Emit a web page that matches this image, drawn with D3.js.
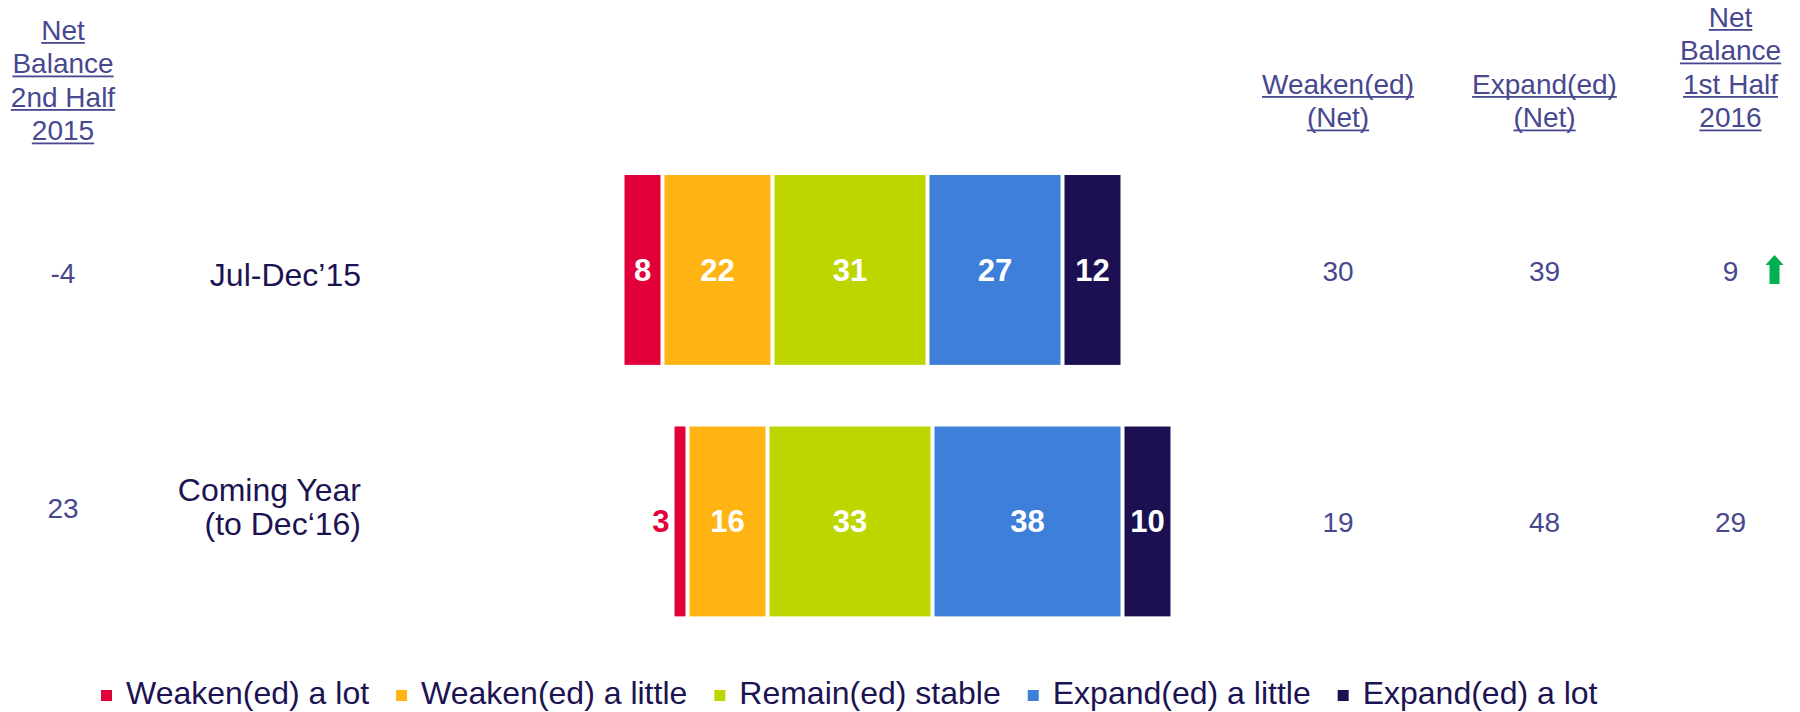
<!DOCTYPE html>
<html>
<head>
<meta charset="utf-8">
<script src="https://cdn.jsdelivr.net/npm/d3@7"></script>
<style>
  html, body { margin: 0; padding: 0; background: #ffffff; }
  svg { display: block; font-family: "Liberation Sans", Arial, Helvetica, sans-serif; }
</style>
</head>
<body>
<svg id="chart" width="1800" height="712"></svg>
<script>
// ---------- data ----------
const categories = ["Jul-Dec’15", "Coming Year (to Dec‘16)"];
const categoryLines = [["Jul-Dec’15"], ["Coming Year", "(to Dec‘16)"]];
const seriesNames = ["Weaken(ed) a lot", "Weaken(ed) a little", "Remain(ed) stable", "Expand(ed) a little", "Expand(ed) a lot"];
const weakenLot = [8, 3];
const weakenLittle = [22, 16];
const remainStable = [31, 33];
const expandLittle = [27, 38];
const expandLot = [12, 10];
const netBalance2015 = [-4, 23];
const weakenedNet = [30, 19];
const expandedNet = [39, 48];
const netBalance2016 = [9, 29];
const trendUp = [true, false];
const headerLeft = ["Net", "Balance", "2nd Half", "2015"];
const headerWeaken = ["Weaken(ed)", "(Net)"];
const headerExpand = ["Expand(ed)", "(Net)"];
const headerRight = ["Net", "Balance", "1st Half", "2016"];

// ---------- styles ----------
const colors = ["#E1003A", "#FFB414", "#BED600", "#3D7FD9", "#1C1053"];
const headColor = "#48488F";
const darkText = "#1C1352";

const svg = d3.select("#chart");

const seriesValues = [weakenLot, weakenLittle, remainStable, expandLittle, expandLot];
const rows = categories.map((c, i) => {
  const vals = seriesValues.map(s => s[i]);
  // diverging: zero sits at the middle of the neutral segment
  let start = -(vals[0] + vals[1] + vals[2] / 2);
  const segs = vals.map((v, k) => {
    const seg = {k, v, x0: start, x1: start + v};
    start += v;
    return seg;
  });
  return {cat: c, i, segs};
});

const x = d3.scaleLinear().domain([-50, 60]).range([600, 1150]);
const y = d3.scaleBand().domain(categories).range([113.4, 678]).padding(0.245);

// ---------- bars ----------
const gap = 2;
const rowG = svg.selectAll("g.row").data(rows).join("g").attr("class", "row");
rowG.selectAll("rect").data(d => d.segs.map(s => ({...s, cat: d.cat})))
  .join("rect")
  .attr("x", d => x(d.x0) + gap)
  .attr("y", d => y(d.cat))
  .attr("width", d => Math.max(1, x(d.x1) - x(d.x0) - 2 * gap))
  .attr("height", y.bandwidth())
  .attr("fill", d => colors[d.k]);

rowG.selectAll("text.val").data(d => d.segs.map(s => ({...s, cat: d.cat})))
  .join("text")
  .attr("class", "val")
  .attr("x", d => d.v < 5 ? x(d.x0) - 3 : (x(d.x0) + x(d.x1)) / 2)
  .attr("y", d => y(d.cat) + y.bandwidth() / 2 + 11)
  .attr("text-anchor", d => d.v < 5 ? "end" : "middle")
  .attr("font-size", 31)
  .attr("font-weight", "bold")
  .attr("fill", d => d.v < 5 ? colors[d.k] : "#ffffff")
  .text(d => d.v);

// ---------- category labels ----------
const labelShift = [5, -14];
const catG = svg.append("g");
categories.forEach((c, i) => {
  const lines = categoryLines[i];
  const lh = 34;
  const cy = y(c) + y.bandwidth() / 2 + labelShift[i];
  const t = catG.append("text")
    .attr("text-anchor", "end")
    .attr("font-size", 32)
    .attr("fill", darkText);
  lines.forEach((ln, j) => {
    t.append("tspan")
      .attr("x", 361)
      .attr("y", cy + 11 + (j - (lines.length - 1) / 2) * lh)
      .text(ln);
  });
});

// ---------- headers ----------
function header(lines, cx, lastBaseline) {
  const lh = 33.5;
  const g = svg.append("g");
  lines.forEach((ln, j) => {
    const by = lastBaseline - (lines.length - 1 - j) * lh;
    const t = g.append("text")
      .attr("x", cx).attr("y", by)
      .attr("text-anchor", "middle")
      .attr("font-size", 28)
      .attr("fill", headColor)
      .text(ln);
    const w = t.node().getComputedTextLength();
    g.append("rect")
      .attr("x", cx - w / 2).attr("y", by + 2.5)
      .attr("width", w).attr("height", 1.8)
      .attr("fill", headColor);
  });
}
const colLeft = 63, colWeaken = 1338, colExpand = 1544.5, colRight = 1730.5;
header(headerLeft, colLeft, 140);
header(headerWeaken, colWeaken, 127);
header(headerExpand, colExpand, 127);
header(headerRight, colRight, 127);

// ---------- side numbers ----------
const leftShift = [3, -13];
function numCol(vals, cx, shifts) {
  svg.append("g").selectAll("text").data(vals).join("text")
    .attr("x", cx)
    .attr("y", (d, i) => y(categories[i]) + y.bandwidth() / 2 + (shifts ? shifts[i] : 1) + 10)
    .attr("text-anchor", "middle")
    .attr("font-size", 28)
    .attr("fill", headColor)
    .text(d => d);
}
numCol(netBalance2015, colLeft, leftShift);
numCol(weakenedNet, colWeaken);
numCol(expandedNet, colExpand);
numCol(netBalance2016, colRight);

// ---------- trend arrow ----------
trendUp.forEach((up, i) => {
  if (!up) return;
  const cx = colRight + 44;
  const cy = y(categories[i]) + y.bandwidth() / 2;
  const top = cy - 15, bot = cy + 14, hw = 9, sw = 5, headH = 10;
  const p = d3.path();
  p.moveTo(cx, top);
  p.lineTo(cx + hw, top + headH);
  p.lineTo(cx + sw, top + headH);
  p.lineTo(cx + sw, bot);
  p.lineTo(cx - sw, bot);
  p.lineTo(cx - sw, top + headH);
  p.lineTo(cx - hw, top + headH);
  p.closePath();
  svg.append("path").attr("d", p.toString()).attr("fill", "#00B050");
});

// ---------- legend ----------
const legend = svg.append("g");
let lx = 101;
seriesNames.forEach((name, k) => {
  legend.append("rect")
    .attr("x", lx).attr("y", 690)
    .attr("width", 11).attr("height", 11)
    .attr("fill", colors[k]);
  const t = legend.append("text")
    .attr("x", lx + 25).attr("y", 704)
    .attr("font-size", 32)
    .attr("fill", darkText)
    .text(name);
  lx += 25 + t.node().getComputedTextLength() + 27;
});
</script>
</body>
</html>
